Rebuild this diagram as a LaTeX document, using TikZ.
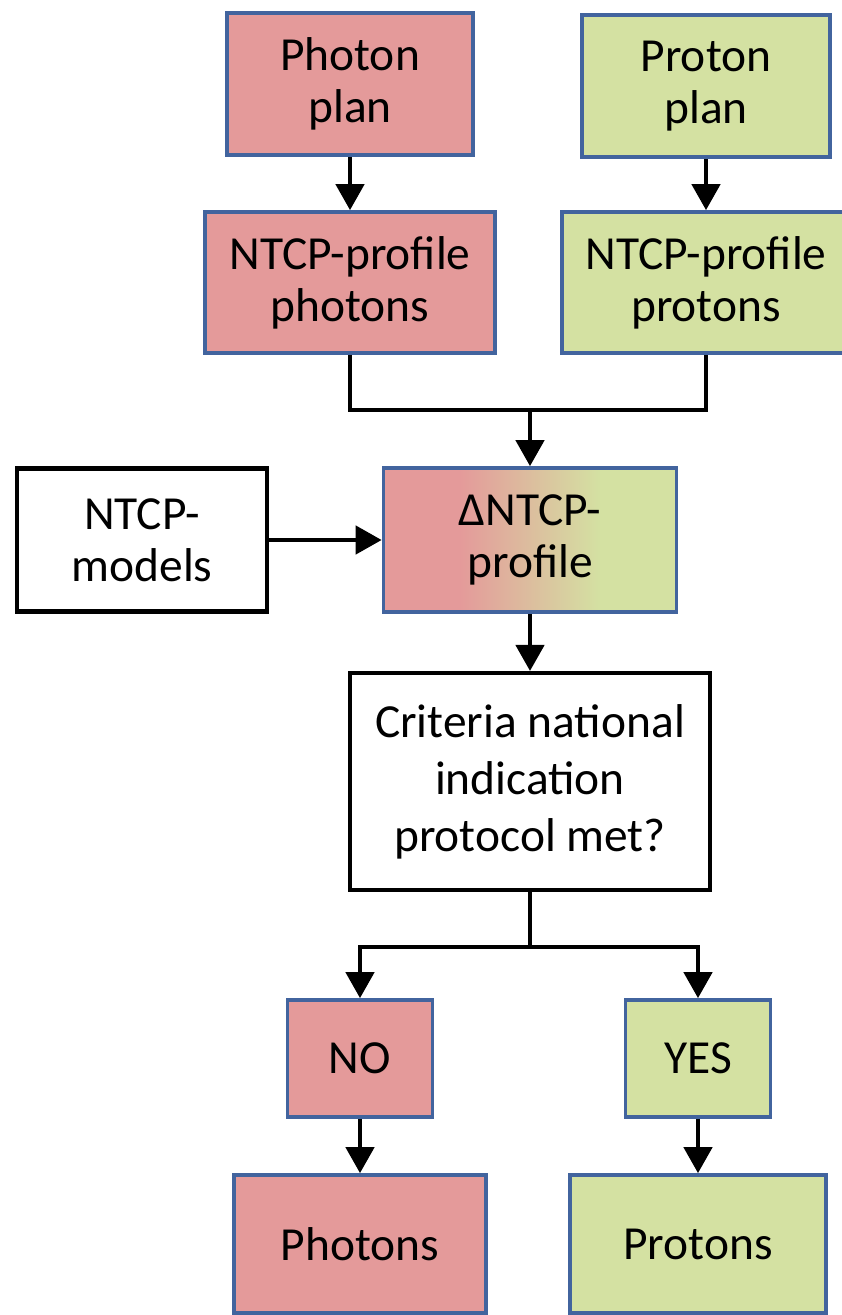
\documentclass[tikz,border=0pt]{standalone}
\usepackage{fontspec}
\setmainfont{Carlito}
\usetikzlibrary{arrows.meta}

\definecolor{photonRed}{RGB}{228,154,154}
\definecolor{protonGreen}{RGB}{212,225,162}
\definecolor{boxBlue}{RGB}{66,100,158}

% Red-to-green fade for the difference box
\pgfdeclarehorizontalshading{deltaShade}{100bp}{
    color(0bp)=(photonRed); color(38bp)=(photonRed);
    color(62bp)=(protonGreen); color(100bp)=(protonGreen)}

\begin{document}
\begin{tikzpicture}[
    % Common style for all boxes
    boxBase/.style={
        rectangle,
        align=center,
        inner sep=0pt,
        font=\fontsize{27}{29.5}\selectfont
    },
    % Photon side boxes
    redBox/.style={
        boxBase,
        draw=boxBlue,
        fill=photonRed,
        line width=2.1pt
    },
    % Proton side boxes
    greenBox/.style={
        boxBase,
        draw=boxBlue,
        fill=protonGreen,
        line width=2.1pt
    },
    % Boxes with black frame
    plainBox/.style={
        boxBase,
        draw=black,
        fill=white,
        line width=2.3pt
    },
    % Plain connector line
    lineStyle/.style={
        draw=black,
        line width=2.6pt
    },
    % Connector with arrow head
    arrowStyle/.style={
        lineStyle,
        -{Triangle[length=0.52cm, width=0.56cm]}
    }
]

    % --- CANVAS ---
    \useasboundingbox (0,0) rectangle (16.84,-26.3);

    % --- PLANS ---
    \node[redBox, minimum width=4.92cm, minimum height=2.84cm] (photonPlan) at (7.0,-1.68) {Photon\\plan};
    \node[greenBox, minimum width=4.96cm, minimum height=2.84cm] (protonPlan) at (14.12,-1.72) {Proton\\plan};

    % --- NTCP PROFILES ---
    \node[redBox, minimum width=5.8cm, minimum height=2.82cm] (ntcpPhot) at (7.0,-5.65) {NTCP-profile\\photons};
    \node[greenBox, minimum width=5.76cm, minimum height=2.82cm] (ntcpProt) at (14.12,-5.65) {NTCP-profile\\protons};

    % --- MODELS AND DIFFERENCE ---
    \node[plainBox, minimum width=5.0cm, minimum height=2.86cm] (models) at (2.84,-10.8) {NTCP-\\models};
    \node[boxBase, draw=boxBlue, line width=2.1pt, shading=deltaShade,
          minimum width=5.86cm, minimum height=2.88cm] (delta) at (10.6,-10.8) {ΔNTCP-\\profile};

    % --- DECISION ---
    \node[plainBox, minimum width=7.2cm, minimum height=4.34cm] (criteria) at (10.6,-15.63)
        {Criteria national\\[3pt]indication\\[3pt]protocol met?};

    % --- OUTCOMES ---
    \node[redBox, minimum width=2.9cm, minimum height=2.34cm] (no) at (7.2,-21.17) {NO};
    \node[greenBox, minimum width=2.9cm, minimum height=2.34cm] (yes) at (13.96,-21.17) {YES};
    \node[redBox, minimum width=5.04cm, minimum height=2.76cm] (photons) at (7.2,-24.88) {Photons};
    \node[greenBox, minimum width=5.12cm, minimum height=2.76cm] (protons) at (13.96,-24.88) {Protons};

    % --- CONNECTORS ---
    \coordinate (merge) at (10.6,-8.2);
    \coordinate (split) at (10.6,-18.94);

    \draw[arrowStyle] (photonPlan) -- (ntcpPhot);
    \draw[arrowStyle] (protonPlan) -- (ntcpProt);
    \draw[lineStyle] (ntcpPhot.south) |- (merge) -| (ntcpProt.south);
    \draw[arrowStyle] (merge) -- (delta.north);
    \draw[arrowStyle] (models) -- (delta);
    \draw[arrowStyle] (delta) -- (criteria);
    \draw[lineStyle] (criteria.south) -- (split);
    \draw[arrowStyle] (split) -| (no.north);
    \draw[arrowStyle] (split) -| (yes.north);
    \draw[arrowStyle] (no) -- (photons);
    \draw[arrowStyle] (yes) -- (protons);

\end{tikzpicture}
\end{document}
